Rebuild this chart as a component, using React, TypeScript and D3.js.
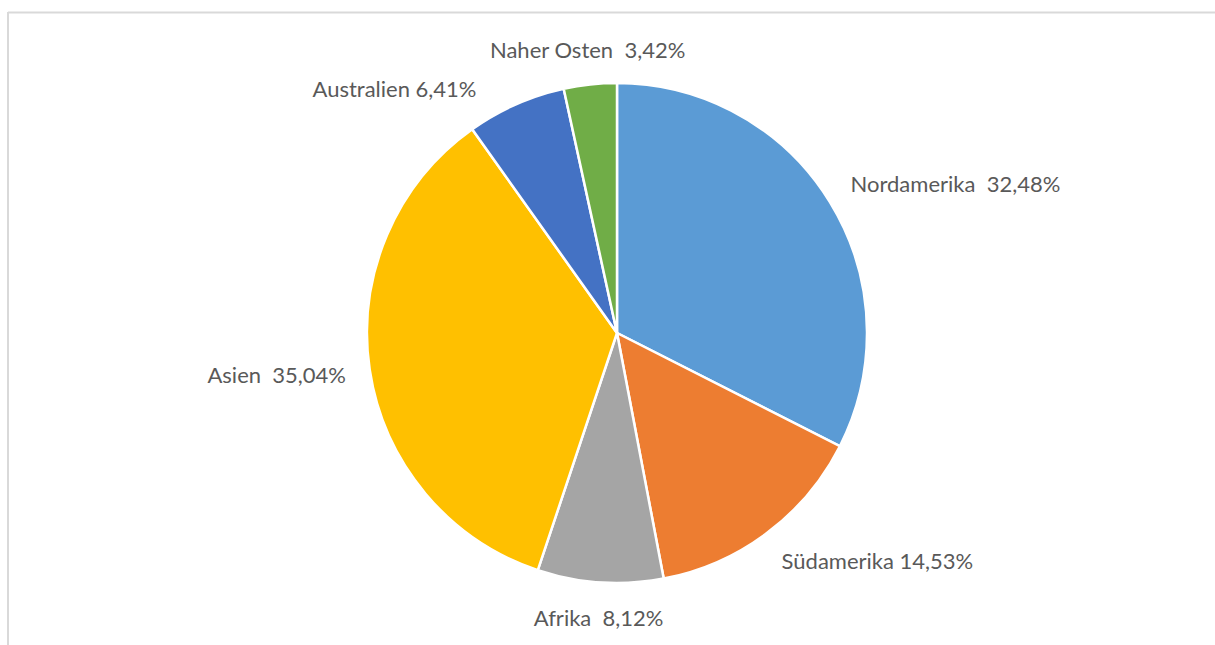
import React, { useMemo } from 'react';
import { arc, pie, PieArcDatum } from 'd3';

const regions = ['Nordamerika', 'Südamerika', 'Afrika', 'Asien', 'Australien', 'Naher Osten'];
const shares = [32.48, 14.53, 8.12, 35.04, 6.41, 3.42];
const shareLabels = ['32,48%', '14,53%', '8,12%', '35,04%', '6,41%', '3,42%'];
const separators = ['  ', ' ', '  ', '  ', ' ', '  '];
const colors = ['#5B9BD5', '#ED7D31', '#A5A5A5', '#FFC000', '#4472C4', '#70AD47'];

const W = 1215;
const H = 645;
const cx = 617;
const cy = 333;
const r = 250;
const labelR = r + 24;
const fontSize = 22;
const fontFamily = 'Lato, "Open Sans", sans-serif';
const labelPad = 16;

type Slice = { name: string; value: number; label: string; color: string };
type LabelPos = { x: number; y: number; anchor: string; box: [number, number, number, number] };

let ctx: CanvasRenderingContext2D | null = null;
function textWidth(t: string) {
  if (!ctx) ctx = document.createElement('canvas').getContext('2d');
  if (!ctx) return t.length * fontSize * 0.5;
  ctx.font = `${fontSize}px ${fontFamily}`;
  return ctx.measureText(t).width;
}

function placeLabel(angle: number, w: number): LabelPos {
  const s = Math.sin(angle);
  const c = Math.cos(angle);
  const x = s * labelR;
  const y = -c * labelR - c * (fontSize / 2);
  const anchor = s > 0.3 ? 'start' : s < -0.3 ? 'end' : 'middle';
  const left = anchor === 'start' ? x : anchor === 'end' ? x - w : x - w / 2;
  return { x, y, anchor, box: [left, y - fontSize / 2, left + w, y + fontSize / 2] };
}

function clash(a: LabelPos, b: LabelPos) {
  return (
    a.box[0] < b.box[2] + labelPad &&
    b.box[0] < a.box[2] + labelPad &&
    a.box[1] < b.box[3] + labelPad &&
    b.box[1] < a.box[3] + labelPad
  );
}

const App = () => {
  const data: Slice[] = regions.map((name, i) => ({
    name,
    value: shares[i],
    label: name + separators[i] + shareLabels[i],
    color: colors[i],
  }));

  const pieGen = pie<Slice>()
    .value((d) => d.value)
    .sort(null);
  const arcs = pieGen(data);
  const arcGen = arc<PieArcDatum<Slice>>().innerRadius(0).outerRadius(r);

  const labels = useMemo(() => {
    const out: LabelPos[] = arcs.map((a) =>
      placeLabel((a.startAngle + a.endAngle) / 2, textWidth(a.data.label))
    );
    // push crowded labels back along the circle, from the last slice down
    for (let i = arcs.length - 2; i >= 0; i--) {
      const a = arcs[i];
      const w = textWidth(a.data.label);
      let angle = (a.startAngle + a.endAngle) / 2;
      let tries = 0;
      while (clash(out[i], out[i + 1]) && angle > a.startAngle && tries < 60) {
        angle -= Math.PI / 180;
        out[i] = placeLabel(angle, w);
        tries++;
      }
    }
    return out;
  }, []);

  return (
    <svg
      width={W}
      height={H}
      style={{ position: 'absolute', left: 0, top: 0, background: '#fff' }}
    >
      {/* chart area border, cut off on the right and bottom */}
      <line x1={8} y1={12.5} x2={W} y2={12.5} stroke='#d9d9d9' strokeWidth={2} />
      <line x1={8} y1={12} x2={8} y2={H} stroke='#d9d9d9' strokeWidth={2} />

      <g transform={`translate(${cx},${cy})`}>
        {arcs.map((a) => (
          <path key={a.data.name} d={arcGen(a) || ''} fill={a.data.color} stroke='#fff' strokeWidth={2.5} />
        ))}
        {arcs.map((a, i) => (
          <text
            key={a.data.name + '-label'}
            x={labels[i].x}
            y={labels[i].y}
            textAnchor={labels[i].anchor}
            dominantBaseline='central'
            fontFamily={fontFamily}
            fontSize={fontSize}
            fill='#595959'
            style={{ whiteSpace: 'pre' }}
          >
            {a.data.label}
          </text>
        ))}
      </g>
    </svg>
  );
};

export default App;
